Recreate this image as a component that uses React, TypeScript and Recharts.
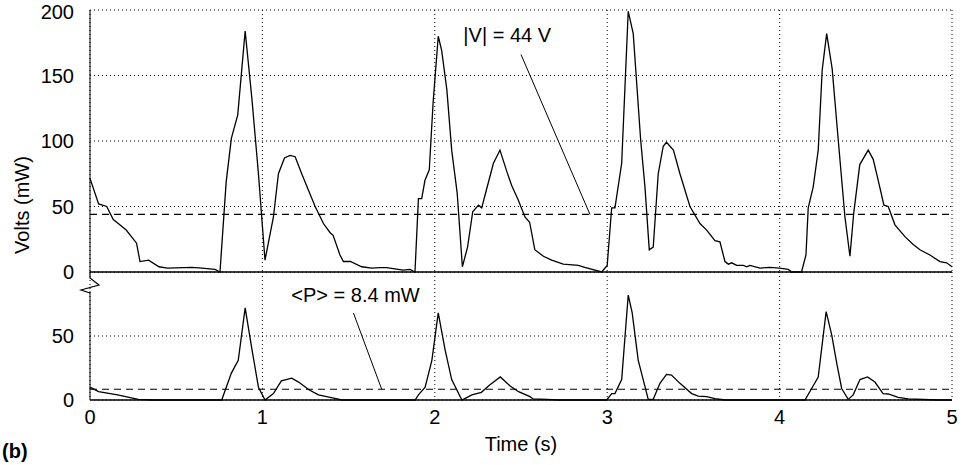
import { LineChart, Line, XAxis, YAxis, CartesianGrid, ReferenceLine, ReferenceDot } from 'recharts';

// Time (s) and voltage magnitude (V)
const voltTime = [0, .05, .097, .135, .164, .21, .27, .29, .34, .40, .45, .59, .65, .725, .754, .79, .82, .857, .90, .94, .977, 1.015, 1.064, 1.093, 1.128, 1.16, 1.19, 1.228, 1.306, 1.354, 1.393, 1.41, 1.45, 1.47, 1.51, 1.576, 1.634, 1.68, 1.72, 1.817, 1.856, 1.885, 1.905, 1.924, 1.943, 1.968, 1.99, 2.02, 2.04, 2.07, 2.098, 2.13, 2.16, 2.19, 2.22, 2.253, 2.272, 2.30, 2.34, 2.378, 2.417, 2.446, 2.484, 2.523, 2.55, 2.58, 2.63, 2.678, 2.745, 2.833, 2.87, 2.968, 3.0, 3.026, 3.045, 3.084, 3.122, 3.151, 3.194, 3.219, 3.244, 3.267, 3.296, 3.325, 3.344, 3.384, 3.422, 3.48, 3.538, 3.577, 3.625, 3.654, 3.683, 3.703, 3.722, 3.751, 3.79, 3.809, 3.828, 3.886, 3.944, 4.0, 4.05, 4.07, 4.127, 4.153, 4.166, 4.195, 4.224, 4.247, 4.273, 4.305, 4.34, 4.379, 4.408, 4.43, 4.465, 4.514, 4.543, 4.572, 4.605, 4.63, 4.669, 4.727, 4.775, 4.814, 4.872, 4.93, 4.969, 5.0];
const voltValues = [71.5, 52, 50, 40, 37, 32, 22, 8, 9, 4, 3, 3.5, 3, 2, 0, 69, 102, 120, 184, 131, 75, 9, 42, 75, 87, 89, 88, 75, 50, 37, 30, 28, 13, 8, 8, 4, 3, 3.3, 3.3, 1.5, 2, 0, 56, 56, 70, 78, 129, 180, 169, 139, 93, 60, 4, 19, 46, 51, 49, 63, 83, 93, 77, 66, 55, 42, 38, 17, 12, 9, 6, 5, 3.5, 0, 5, 49, 49, 83, 199, 182, 101, 65, 17, 19, 75, 96, 99, 93, 75, 50, 37, 32, 24, 23, 8, 6, 7, 5, 5, 4, 5, 3, 3.5, 3, 2, 0, 0, 13, 49, 65, 93, 154, 182, 155, 101, 42, 12, 45, 82, 93, 86, 70, 51, 50, 36, 27, 21, 17, 13, 8, 7, 4];

// Time (s) and power (mW)
const powerTime = [0, .05, .16, .28, .36, .764, .82, .86, .90, .94, .977, 1.015, 1.064, 1.11, 1.17, 1.21, 1.27, 1.325, 1.42, 1.46, 1.886, 1.905, 1.944, 1.983, 2.02, 2.06, 2.098, 2.157, 2.215, 2.27, 2.32, 2.38, 2.437, 2.486, 2.552, 2.57, 2.65, 2.716, 2.997, 3.026, 3.045, 3.084, 3.122, 3.145, 3.18, 3.22, 3.238, 3.267, 3.306, 3.344, 3.373, 3.422, 3.49, 3.528, 3.577, 3.625, 3.683, 4.147, 4.186, 4.224, 4.27, 4.302, 4.331, 4.36, 4.398, 4.427, 4.466, 4.51, 4.553, 4.6, 4.63, 4.688, 4.746, 4.92, 5.0];
const powerValues = [10, 6.5, 4, 0.5, 0, 0, 21, 31, 72, 39, 10, 0, 5, 15, 17, 14, 8, 4, 1.3, 0, 0, 4, 10, 31, 68, 39, 16, 0, 4, 6, 12, 18, 11, 6.5, 2.6, 0.8, 0.5, 0, 0, 5, 5, 16, 82, 68, 31, 10, 0.5, 0.5, 13, 20, 19.5, 13, 5, 3, 2.6, 1, 0, 0, 9, 18, 69, 51, 29, 9, 0.5, 4, 16, 18, 14, 5, 4.7, 2, 0.8, 0, 0];

const timeTicks = [0, 1, 2, 3, 4, 5];
const voltTicks = [0, 50, 100, 150, 200];
const powerTicks = [0, 50];
const meanVolt = 44;
const meanPower = 8.4;

const voltData = voltTime.map((t, i) => ({ t, v: voltValues[i] }));
const powerData = powerTime.map((t, i) => ({ t, p: powerValues[i] }));

const font = '"Liberation Sans", Arial, sans-serif';
const tickStyle = { fontSize: 20, fill: '#000', fontFamily: font };

export default function App() {
    return (
        <div style={{ position: 'absolute', left: 0, top: 0, width: 970, height: 465, background: '#fff', fontFamily: font }}>
            <div style={{ position: 'absolute', left: 0, top: 272 }}>
                <LineChart width={970} height={193} data={powerData} margin={{ top: 0, right: 18, bottom: 0, left: 0 }}>
                    <CartesianGrid stroke="#000" strokeDasharray="1 3" />
                    <XAxis dataKey="t" type="number" domain={[0, 5]} ticks={timeTicks} height={65} tickLine={false} axisLine={false}
                        tick={tickStyle} tickMargin={4}
                        label={{ value: 'Time (s)', position: 'insideBottom', offset: 14, fontSize: 20, fill: '#000', fontFamily: font }} />
                    <YAxis type="number" domain={[0, 100]} ticks={powerTicks} width={90} tickLine={false} axisLine={false} tick={tickStyle} tickMargin={10} />
                    <ReferenceLine y={0} stroke="#000" strokeWidth={1.5} />
                    <ReferenceLine segment={[{ x: 0, y: 0 }, { x: 0, y: 85 }]} stroke="#000" />
                    <ReferenceLine y={meanPower} stroke="#000" strokeDasharray="7 5" strokeWidth={1.2} />
                    <ReferenceLine segment={[{ x: 1.528, y: 68 }, { x: 1.692, y: meanPower }]} stroke="#000" />
                    <ReferenceDot x={1.54} y={82} r={0} ifOverflow="visible"
                        label={{ value: '<P> = 8.4 mW', position: 'center', fontSize: 20, fill: '#000', fontFamily: font }} />
                    <Line type="linear" dataKey="p" stroke="#000" strokeWidth={1.3} dot={false} isAnimationActive={false} />
                </LineChart>
            </div>
            <div style={{ position: 'absolute', left: 0, top: 0 }}>
                <LineChart width={970} height={286} data={voltData} margin={{ top: 10, right: 18, bottom: 14, left: 0 }}>
                    <CartesianGrid stroke="#000" strokeDasharray="1 3" />
                    <XAxis dataKey="t" type="number" domain={[0, 5]} ticks={timeTicks} hide />
                    <YAxis type="number" domain={[0, 200]} ticks={voltTicks} width={90} tickLine={false} stroke="#000" tick={tickStyle} tickMargin={10} />
                    <ReferenceLine y={0} stroke="#000" strokeWidth={1.5} />
                    <ReferenceLine y={meanVolt} stroke="#000" strokeDasharray="7 5" strokeWidth={1.2} />
                    <ReferenceLine segment={[{ x: 2.5, y: 166 }, { x: 2.9, y: meanVolt }]} stroke="#000" />
                    <ReferenceDot x={2.42} y={181} r={0} ifOverflow="visible"
                        label={{ value: '|V| = 44 V', position: 'center', fontSize: 20, fill: '#000', fontFamily: font }} />
                    <Line type="linear" dataKey="v" stroke="#000" strokeWidth={1.3} dot={false} isAnimationActive={false} />
                </LineChart>
            </div>
            {/* axis break mark */}
            <svg style={{ position: 'absolute', left: 0, top: 0 }} width={970} height={465} pointerEvents="none">
                <polyline points="90,272 90,278 99,285 81,290 90,293" fill="none" stroke="#000" strokeWidth={1.2} />
            </svg>
            <div style={{ position: 'absolute', left: 22, top: 205, transform: 'translate(-50%, -50%) rotate(-90deg)', fontSize: 20, whiteSpace: 'nowrap' }}>
                Volts (mW)
            </div>
            <div style={{ position: 'absolute', left: 2, top: 440, fontSize: 20, fontWeight: 'bold' }}>(b)</div>
        </div>
    );
}
